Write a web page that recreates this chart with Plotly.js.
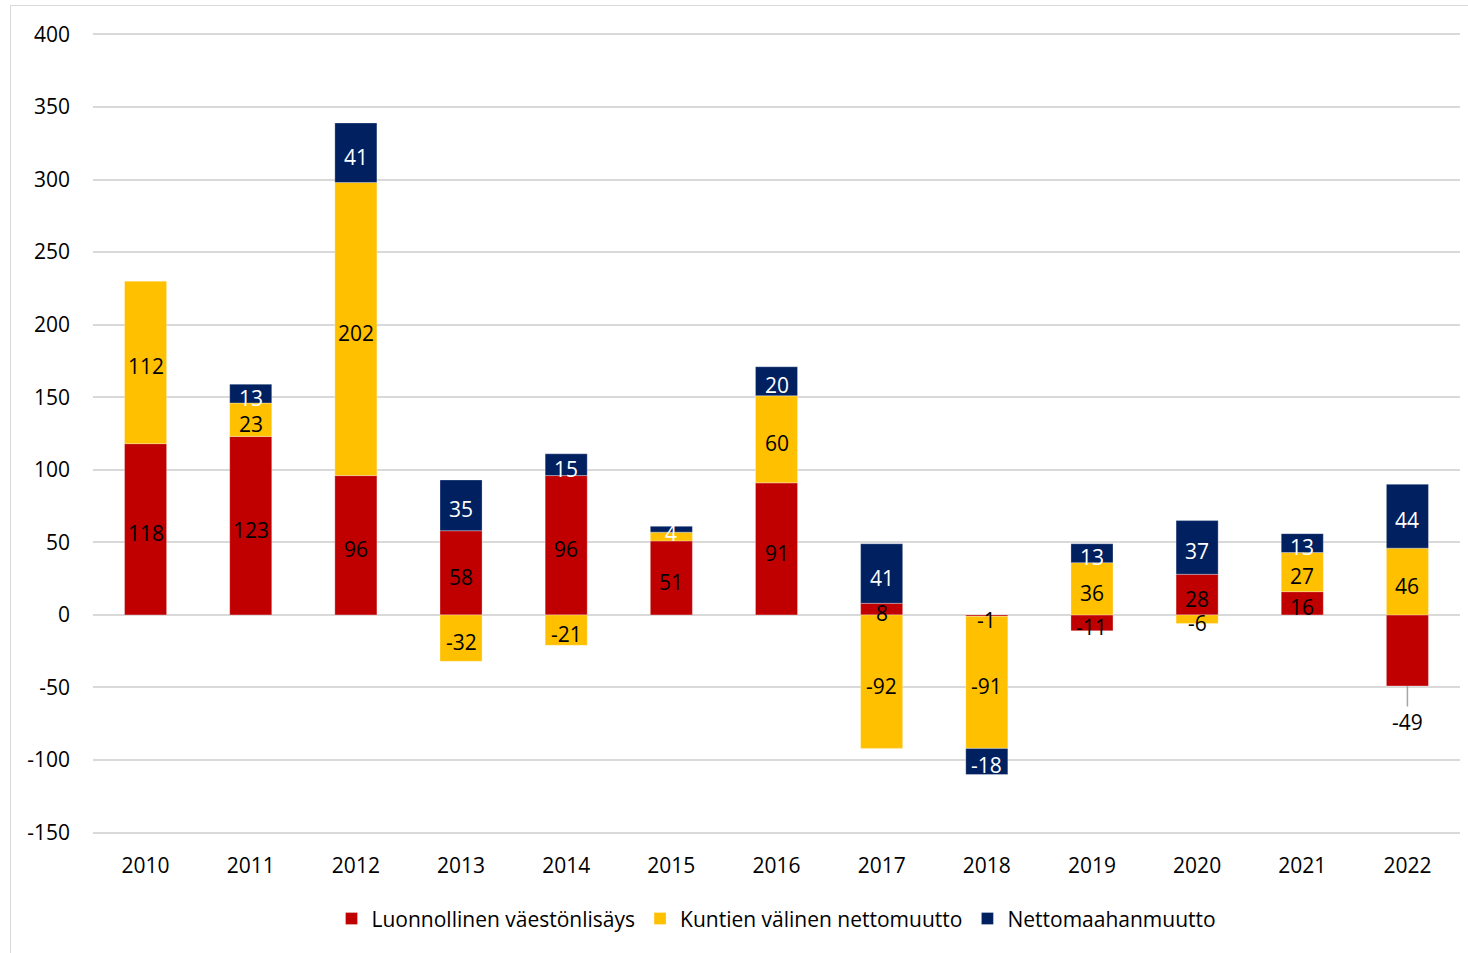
<!DOCTYPE html>
<html>
<head>
<meta charset="utf-8">
<script src="https://cdn.plot.ly/plotly-3.0.1.min.js"></script>
<style>
  html, body { margin: 0; padding: 0; background: #ffffff; overflow: hidden; }
  #kaavio {
    position: absolute; left: 10px; top: 5px;
    width: 1460px; height: 960px;
    border: 1px solid #d9d9d9; box-sizing: border-box;
  }
</style>
</head>
<body>
<div id="kaavio"></div>
<script>
// --- aineisto ---
const vuodet = ['2010', '2011', '2012', '2013', '2014', '2015', '2016',
                '2017', '2018', '2019', '2020', '2021', '2022'];
const luonnollinen = [118, 123, 96, 58, 96, 51, 91, 8, -1, -11, 28, 16, -49];
const kuntienValinen = [112, 23, 202, -32, -21, 6, 60, -92, -91, 36, -6, 27, 46];
const nettomaahanmuutto = [null, 13, 41, 35, 15, 4, 20, 41, -18, 13, 37, 13, 44];

const yTikit = [-150, -100, -50, 0, 50, 100, 150, 200, 250, 300, 350, 400];

const sarjaNimet = ['Luonnollinen väestönlisäys', 'Kuntien välinen nettomuutto', 'Nettomaahanmuutto'];
const varit = ['#c00000', '#ffc000', '#002060'];
const tekstiVarit = ['#000000', '#000000', '#ffffff'];

// arvot joille ei näytetä tunnistetta palkin sisällä
const piilotetut = { 0: ['2022'], 1: ['2015'], 2: [] };

const fontti = '"Open Sans", Lato, sans-serif';
const koko = 21;
const kaikki = [luonnollinen, kuntienValinen, nettomaahanmuutto];

// palkit
const palkit = kaikki.map((arvot, s) => ({
    type: 'bar',
    name: sarjaNimet[s],
    x: vuodet,
    y: arvot,
    marker: { color: varit[s], line: { color: 'rgba(255,255,255,0.6)', width: 0.5 } },
    hoverinfo: 'x+y+name'
}));

// tunnisteet palkkien päälle (pinon keskikohdat, samassa järjestyksessä kuin relative-tila)
const posPohja = vuodet.map(() => 0);
const negPohja = vuodet.map(() => 0);
const annotaatiot = [];
kaikki.forEach((arvot, s) => {
    arvot.forEach((v, i) => {
        if (v === null) return;
        let keski;
        if (v >= 0) { keski = posPohja[i] + v / 2; posPohja[i] += v; }
        else { keski = negPohja[i] + v / 2; negPohja[i] += v; }
        if (piilotetut[s].includes(vuodet[i])) return;
        annotaatiot.push({
            x: i, y: keski, xref: 'x', yref: 'y',
            text: String(v), showarrow: false, yshift: -4,
            font: { family: fontti, size: koko, color: tekstiVarit[s] }
        });
    });
});

// 2022 luonnollinen väestönlisäys: tunniste palkin alla ohjausviivan kanssa
const i22 = vuodet.indexOf('2022');
annotaatiot.push({
    x: i22, y: luonnollinen[i22], xref: 'x', yref: 'y',
    text: String(luonnollinen[i22]),
    showarrow: true, arrowhead: 0, arrowwidth: 1.5, arrowcolor: '#a6a6a6',
    ax: 0, ay: 36, standoff: 0,
    font: { family: fontti, size: koko, color: '#000000' }
});

const layout = {
    barmode: 'relative',
    bargap: 0.6,
    width: 1460, height: 960,
    margin: { l: 82, r: 11, t: 27, b: 132 },
    paper_bgcolor: '#ffffff', plot_bgcolor: '#ffffff',
    font: { family: fontti, size: koko, color: '#000000' },
    xaxis: {
        type: 'category',
        range: [-0.5, vuodet.length - 0.5],
        showgrid: false, zeroline: false, showline: false, ticks: '',
        ticklabelstandoff: 17,
        tickfont: { family: fontti, size: koko, color: '#000000' }
    },
    yaxis: {
        range: [-151, 401],
        tickvals: yTikit,
        ticktext: yTikit.map(v => String(v)),
        showgrid: true, gridcolor: '#d9d9d9', gridwidth: 2,
        zeroline: true, zerolinecolor: '#d9d9d9', zerolinewidth: 2,
        showline: false, ticks: '',
        ticklabelstandoff: 22,
        tickfont: { family: fontti, size: koko, color: '#000000' }
    },
    showlegend: true,
    legend: {
        orientation: 'h', x: 0.5, xanchor: 'center', y: -0.106, yanchor: 'middle',
        font: { family: fontti, size: koko, color: '#000000' },
        traceorder: 'normal', itemclick: false
    },
    annotations: annotaatiot
};

Plotly.newPlot('kaavio', palkit, layout, { displayModeBar: false, staticPlot: true });
</script>
</body>
</html>
